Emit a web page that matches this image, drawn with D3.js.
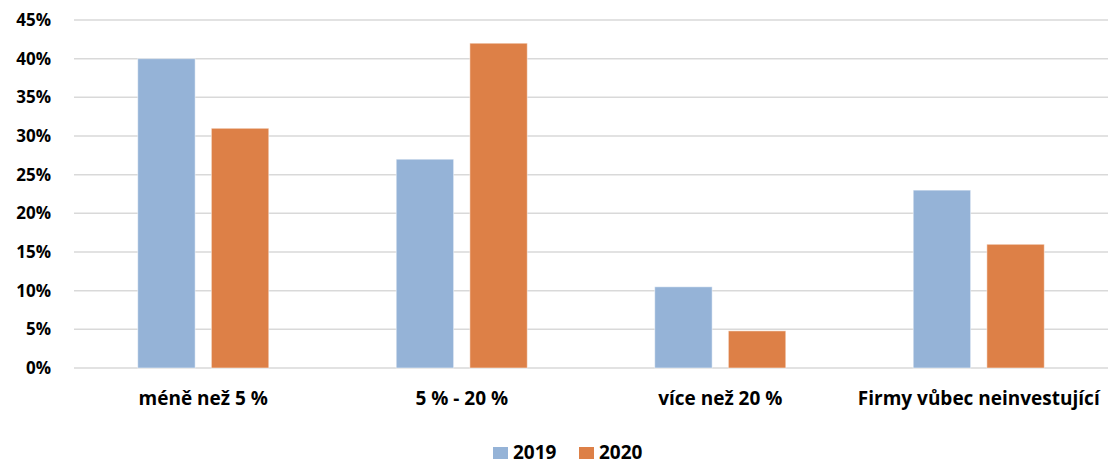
<!DOCTYPE html>
<html>
<head>
<meta charset="utf-8">
<script src="https://cdn.jsdelivr.net/npm/d3@7"></script>
<style>
  body { margin: 0; background: #fff; }
  svg text { font-family: "Open Sans", Lato, sans-serif; font-weight: bold; fill: #000; }
</style>
</head>
<body>
<svg id="chart"></svg>
<script>
var categories = ["méně než 5 %", "5 % - 20 %", "více než 20 %", "Firmy vůbec neinvestující"];
var seriesNames = ["2019", "2020"];
var values2019 = [0.40, 0.27, 0.105, 0.23];
var values2020 = [0.31, 0.42, 0.048, 0.16];
var yTicks = [0, 0.05, 0.10, 0.15, 0.20, 0.25, 0.30, 0.35, 0.40, 0.45];
var colors = ["#95b3d7", "#dd8047"];

var width = 1113;
var height = 462;
var margin = {top: 20, right: 5, bottom: 94, left: 74};

var svg = d3.select("#chart")
    .attr("width", width)
    .attr("height", height);

var x0 = d3.scaleBand()
    .domain(categories)
    .range([margin.left, width - margin.right])
    .paddingInner(0.493)
    .paddingOuter(0.2465);

var x1 = d3.scaleBand()
    .domain(seriesNames)
    .range([0, x0.bandwidth()])
    .paddingInner(0.22);

var y = d3.scaleLinear()
    .domain([0, 0.45])
    .range([height - margin.bottom, margin.top]);

// gridlines
svg.append("g")
    .selectAll("line")
    .data(yTicks)
    .enter()
    .append("line")
    .attr("x1", margin.left)
    .attr("x2", width - margin.right)
    .attr("y1", function(d) { return y(d); })
    .attr("y2", function(d) { return y(d); })
    .attr("stroke", "#d9d9d9")
    .attr("stroke-width", 1.5);

// y axis labels
var yAxis = d3.axisLeft(y)
    .tickValues(yTicks)
    .tickFormat(d3.format(".0%"))
    .tickSize(0)
    .tickPadding(23);

svg.append("g")
    .attr("transform", "translate(" + margin.left + ",0)")
    .call(yAxis)
    .call(function(g) { g.select(".domain").remove(); })
    .selectAll("text")
    .attr("font-size", 17);

var rows = categories.map(function(c, i) {
    return {cat: c, vals: [values2019[i], values2020[i]]};
});

var groups = svg.append("g")
    .selectAll("g")
    .data(rows)
    .enter()
    .append("g")
    .attr("transform", function(d) { return "translate(" + x0(d.cat) + ",0)"; });

groups.selectAll("rect")
    .data(function(d) {
        return d.vals.map(function(v, j) { return {name: seriesNames[j], value: v, idx: j}; });
    })
    .enter()
    .append("rect")
    .attr("x", function(d) { return x1(d.name); })
    .attr("y", function(d) { return y(d.value); })
    .attr("width", x1.bandwidth())
    .attr("height", function(d) { return y(0) - y(d.value); })
    .attr("fill", function(d) { return colors[d.idx]; })
    .attr("stroke", "#fff")
    .attr("stroke-opacity", 0.5)
    .attr("stroke-width", 1);

// x axis labels
var xAxis = d3.axisBottom(x0)
    .tickSize(0)
    .tickPadding(24);

svg.append("g")
    .attr("transform", "translate(0," + y(0) + ")")
    .call(xAxis)
    .call(function(g) { g.select(".domain").remove(); })
    .selectAll("text")
    .attr("font-size", 19);

// legend
var legend = svg.append("g")
    .attr("transform", "translate(493,447)");

var legendItems = legend.selectAll("g")
    .data(seriesNames)
    .enter()
    .append("g")
    .attr("transform", function(d, i) { return "translate(" + (i * 86) + ",0)"; });

legendItems.append("rect")
    .attr("width", 15)
    .attr("height", 12)
    .attr("fill", function(d, i) { return colors[i]; });

legendItems.append("text")
    .attr("x", 20)
    .attr("y", 12)
    .attr("font-size", 19)
    .text(function(d) { return d; });
</script>
</body>
</html>
